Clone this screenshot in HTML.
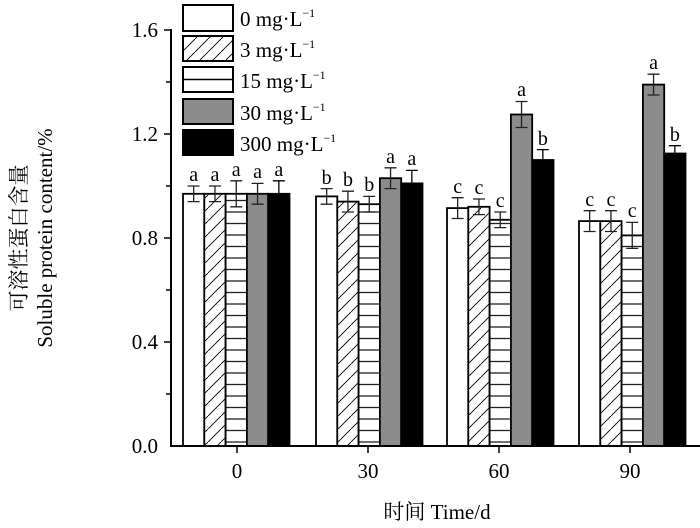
<!DOCTYPE html>
<html><head><meta charset="utf-8"><style>
html,body{margin:0;padding:0;background:#fff;}
svg{display:block;font-family:"Liberation Serif","Noto Serif CJK SC",serif;}
</style></head><body>
<svg width="700" height="528" viewBox="0 0 700 528" xmlns="http://www.w3.org/2000/svg">
<defs>
<pattern id="diag" patternUnits="userSpaceOnUse" width="13" height="13">
<rect width="13" height="13" fill="#fff"/>
<path d="M-2,15 L15,-2" stroke="#000" stroke-width="0.9"/>
</pattern>
<pattern id="hor" patternUnits="userSpaceOnUse" width="12" height="11.5">
<rect width="12" height="11.5" fill="#fff"/>
<line x1="0" y1="5" x2="12" y2="5" stroke="#222" stroke-width="1.3"/>
</pattern>
</defs>
<g stroke="#000" stroke-width="1.8">
<rect x="183" y="193.8" width="21.3" height="252.2" fill="#fff"/>
<rect x="204.3" y="193.8" width="21.3" height="252.2" fill="url(#diag)"/>
<rect x="225.6" y="193.8" width="21.3" height="252.2" fill="url(#hor)"/>
<rect x="246.9" y="193.8" width="21.3" height="252.2" fill="#8c8c8c"/>
<rect x="268.2" y="193.8" width="21.3" height="252.2" fill="#000"/>
<rect x="316" y="196.4" width="21.3" height="249.6" fill="#fff"/>
<rect x="337.3" y="201.6" width="21.3" height="244.4" fill="url(#diag)"/>
<rect x="358.6" y="204.2" width="21.3" height="241.8" fill="url(#hor)"/>
<rect x="379.9" y="178.2" width="21.3" height="267.8" fill="#8c8c8c"/>
<rect x="401.2" y="183.4" width="21.3" height="262.6" fill="#000"/>
<rect x="447" y="208.1" width="21.3" height="237.9" fill="#fff"/>
<rect x="468.3" y="206.8" width="21.3" height="239.2" fill="url(#diag)"/>
<rect x="489.6" y="219.8" width="21.3" height="226.2" fill="url(#hor)"/>
<rect x="510.9" y="114.5" width="21.3" height="331.5" fill="#8c8c8c"/>
<rect x="532.2" y="160" width="21.3" height="286" fill="#000"/>
<rect x="579" y="221.1" width="21.3" height="224.9" fill="#fff"/>
<rect x="600.3" y="221.1" width="21.3" height="224.9" fill="url(#diag)"/>
<rect x="621.6" y="235.4" width="21.3" height="210.6" fill="url(#hor)"/>
<rect x="642.9" y="84.6" width="21.3" height="361.4" fill="#8c8c8c"/>
<rect x="664.2" y="153.5" width="21.3" height="292.5" fill="#000"/>
</g>
<g stroke="#222" stroke-width="1.3" fill="none">
<path d="M193.65,186V201.6M187.65,186H199.65M187.65,201.6H199.65"/>
<path d="M214.95,186V201.6M208.95,186H220.95M208.95,201.6H220.95"/>
<path d="M236.25,180.8V206.8M230.25,180.8H242.25M230.25,206.8H242.25"/>
<path d="M257.55,183.4V204.2M251.55,183.4H263.55M251.55,204.2H263.55"/>
<path d="M278.85,180.8V206.8M272.85,180.8H284.85M272.85,206.8H284.85" stroke="#000"/>
<path d="M326.65,188.6V204.2M320.65,188.6H332.65M320.65,204.2H332.65"/>
<path d="M347.95,191.2V212M341.95,191.2H353.95M341.95,212H353.95"/>
<path d="M369.25,196.4V212M363.25,196.4H375.25M363.25,212H375.25"/>
<path d="M390.55,167.8V188.6M384.55,167.8H396.55M384.55,188.6H396.55"/>
<path d="M411.85,170.4V196.4M405.85,170.4H417.85M405.85,196.4H417.85" stroke="#000"/>
<path d="M457.65,197.7V218.5M451.65,197.7H463.65M451.65,218.5H463.65"/>
<path d="M478.95,199V214.6M472.95,199H484.95M472.95,214.6H484.95"/>
<path d="M500.25,212V227.6M494.25,212H506.25M494.25,227.6H506.25"/>
<path d="M521.55,101.5V127.5M515.55,101.5H527.55M515.55,127.5H527.55"/>
<path d="M542.85,149.6V170.4M536.85,149.6H548.85M536.85,170.4H548.85" stroke="#000"/>
<path d="M589.65,210.7V231.5M583.65,210.7H595.65M583.65,231.5H595.65"/>
<path d="M610.95,210.7V231.5M604.95,210.7H616.95M604.95,231.5H616.95"/>
<path d="M632.25,222.4V248.4M626.25,222.4H638.25M626.25,248.4H638.25"/>
<path d="M653.55,74.2V95M647.55,74.2H659.55M647.55,95H659.55"/>
<path d="M674.85,145.7V161.3M668.85,145.7H680.85M668.85,161.3H680.85" stroke="#000"/>
</g>
<g font-size="20" text-anchor="middle">
<text x="193.65" y="181">a</text><text x="214.95" y="181">a</text><text x="236.25" y="176">a</text><text x="257.55" y="178">a</text><text x="278.85" y="176">a</text>
<text x="326.65" y="184">b</text><text x="347.95" y="186">b</text><text x="369.25" y="191">b</text><text x="390.55" y="163">a</text><text x="411.85" y="165">a</text>
<text x="457.65" y="193">c</text><text x="478.95" y="194">c</text><text x="500.25" y="207">c</text><text x="521.55" y="96">a</text><text x="542.85" y="145">b</text>
<text x="589.65" y="206">c</text><text x="610.95" y="206">c</text><text x="632.25" y="217">c</text><text x="653.55" y="69">a</text><text x="674.85" y="141">b</text>
</g>
<line x1="171" y1="29" x2="171" y2="447" stroke="#000" stroke-width="2"/>
<line x1="170" y1="446" x2="700" y2="446" stroke="#000" stroke-width="2"/>
<g stroke="#000" stroke-width="1.5">
<line x1="164" y1="30" x2="171" y2="30"/><line x1="166" y1="82" x2="171" y2="82"/>
<line x1="164" y1="134" x2="171" y2="134"/><line x1="166" y1="186" x2="171" y2="186"/>
<line x1="164" y1="238" x2="171" y2="238"/><line x1="166" y1="290" x2="171" y2="290"/>
<line x1="164" y1="342" x2="171" y2="342"/><line x1="166" y1="394" x2="171" y2="394"/>
<line x1="237" y1="446" x2="237" y2="453"/><line x1="368" y1="446" x2="368" y2="453"/>
<line x1="499" y1="446" x2="499" y2="453"/><line x1="630" y1="446" x2="630" y2="453"/>
</g>
<g font-size="21" text-anchor="end" fill="#000">
<text x="158" y="37">1.6</text><text x="158" y="141">1.2</text>
<text x="158" y="245">0.8</text><text x="158" y="349">0.4</text><text x="158" y="453">0.0</text>
</g>
<g font-size="21" text-anchor="middle">
<text x="237" y="478">0</text><text x="368" y="478">30</text>
<text x="499" y="478">60</text><text x="630" y="478">90</text>
<text x="437" y="519">时间 Time/d</text>
</g>
<text transform="translate(26,238) rotate(-90)" font-size="21" text-anchor="middle">可溶性蛋白含量</text>
<text transform="translate(52,238) rotate(-90)" font-size="21" text-anchor="middle">Soluble protein content/%</text>
<g stroke="#000" stroke-width="2">
<rect x="183" y="5" width="50" height="26" fill="#fff"/>
<rect x="183" y="36" width="50" height="25" fill="url(#diag)"/>
<rect x="183" y="67" width="50" height="25" fill="#fff"/>
<rect x="183" y="99" width="50" height="25" fill="#8c8c8c"/>
<rect x="183" y="130" width="50" height="25" fill="#000"/>
</g>
<line x1="184" y1="79.5" x2="232" y2="79.5" stroke="#000" stroke-width="1.5"/>
<g font-size="21">
<text x="240" y="26">0 mg·L<tspan font-size="12" dy="-9">−1</tspan></text>
<text x="240" y="57">3 mg·L<tspan font-size="12" dy="-9">−1</tspan></text>
<text x="240" y="88">15 mg·L<tspan font-size="12" dy="-9">−1</tspan></text>
<text x="240" y="120">30 mg·L<tspan font-size="12" dy="-9">−1</tspan></text>
<text x="240" y="151">300 mg·L<tspan font-size="12" dy="-9">−1</tspan></text>
</g>
</svg>
</body></html>
